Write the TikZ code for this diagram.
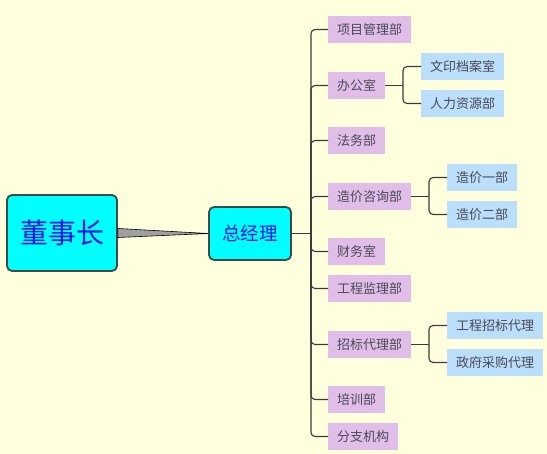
\documentclass[tikz,border=0pt]{standalone}
\usepackage{fontspec}
\setmainfont{Noto Sans CJK SC}
\usetikzlibrary{calc}
\definecolor{bg}{HTML}{FFFFDD}
\definecolor{purp}{HTML}{E0BEE8}
\definecolor{lblue}{HTML}{BBDEFA}
\definecolor{txt}{HTML}{4A4A58}
\definecolor{brd}{HTML}{404848}
\definecolor{ln}{HTML}{3A3A3A}
\definecolor{cy}{RGB}{0,255,255}
\definecolor{bl}{RGB}{20,20,235}
\definecolor{taper}{HTML}{A0A0A0}
\begin{document}
\begin{tikzpicture}[x=1pt,y=-1pt,
  topbox/.style={draw=brd,line width=1.8pt,fill=cy,rounded corners=5pt,text=bl,inner sep=0pt,anchor=center},
  dept/.style={fill=purp,text=txt,inner sep=0pt,minimum height=27pt,anchor=west,font=\fontsize{13}{13}\selectfont},
  sub/.style={fill=lblue,text=txt,inner sep=0pt,minimum height=27pt,anchor=west,font=\fontsize{13}{13}\selectfont},
  link/.style={draw=ln,line width=1.1pt,rounded corners=4pt}]
\fill[bg] (0,0) rectangle (547,454);
\useasboundingbox (0,0) rectangle (547,454);
\node[topbox,minimum width=110pt,minimum height=76pt,font=\fontsize{28}{28}\selectfont] (root) at (62,233) {董事长};
\node[topbox,minimum width=82pt,minimum height=53pt,font=\fontsize{18.5}{18.5}\selectfont] (gm) at (250,233.5) {总经理};
\filldraw[fill=taper,draw=black,line width=0.6pt] ($(root.east)+(0,-4.5)$) -- (gm.west) -- ($(root.east)+(0,4.5)$) -- cycle;
% departments
\node[dept,minimum width=83pt] (d1) at (328,29.5) {项目管理部};
\node[dept,minimum width=57pt] (d2) at (328,85.5) {办公室};
\node[dept,minimum width=57pt] (d3) at (328,140.5) {法务部};
\node[dept,minimum width=83pt] (d4) at (328,196.5) {造价咨询部};
\node[dept,minimum width=57pt] (d5) at (328,251.5) {财务室};
\node[dept,minimum width=83pt] (d6) at (328,288.5) {工程监理部};
\node[dept,minimum width=83pt] (d7) at (328,344.5) {招标代理部};
\node[dept,minimum width=57pt] (d8) at (328,399.5) {培训部};
\node[dept,minimum width=70pt] (d9) at (328,436.5) {分支机构};
% sub units
\node[sub,minimum width=83pt] (s1) at (421,66.5) {文印档案室};
\node[sub,minimum width=83pt] (s2) at (421,103.5) {人力资源部};
\node[sub,minimum width=70pt] (s3) at (447,177.5) {造价一部};
\node[sub,minimum width=70pt] (s4) at (447,214.5) {造价二部};
\node[sub,minimum width=96pt] (s5) at (447,325.5) {工程招标代理};
\node[sub,minimum width=96pt] (s6) at (447,362.5) {政府采购代理};
% connectors
\coordinate (t) at (311,233.5);
\draw[link] (gm.east) -- (t);
\foreach \d in {d1,d2,d3,d4,d5,d6,d7,d8,d9}{\draw[link] (t) |- (\d.west);}
\coordinate (t2) at (403,85.5);
\draw[link] (d2.east) -- (t2);
\draw[link] (t2) |- (s1.west);
\draw[link] (t2) |- (s2.west);
\coordinate (t4) at (429,196.5);
\draw[link] (d4.east) -- (t4);
\draw[link] (t4) |- (s3.west);
\draw[link] (t4) |- (s4.west);
\coordinate (t7) at (429,344.5);
\draw[link] (d7.east) -- (t7);
\draw[link] (t7) |- (s5.west);
\draw[link] (t7) |- (s6.west);
\end{tikzpicture}
\end{document}
